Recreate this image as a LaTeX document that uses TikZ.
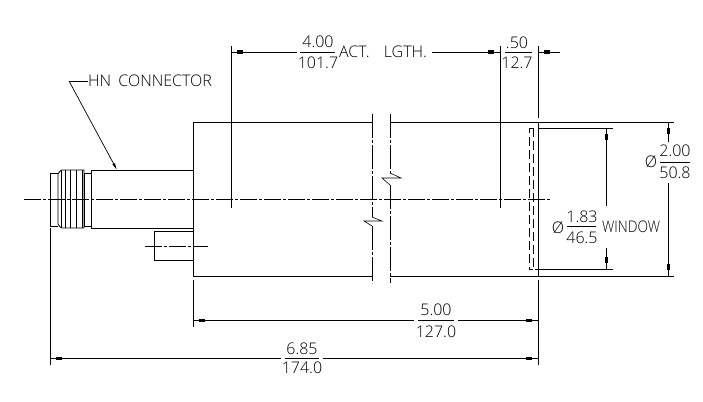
\documentclass[tikz,border=0pt]{standalone}
\usepackage{fontspec}
\setmainfont{Open Sans Light}
\usetikzlibrary{arrows.meta}
\tikzset{
	>={Rectangle[length=6pt,width=3pt]Rectangle[length=6pt,width=.7pt]},
	cadline/.style={line width=.8pt},
	centerline/.style={line width=.7pt,dash pattern=on 17pt off 2pt on 3pt off 2pt},
	breakline/.style={line width=.7pt,dash pattern=on 24pt off 2pt on 3pt off 2pt},
	hidden/.style={line width=.7pt,dash pattern=on 9pt off 4pt},
	dimtext/.style={inner sep=0pt,font=\fontsize{16}{16}\selectfont},
	fracbar/.style={line width=.7pt}
}
\begin{document}
\begin{tikzpicture}[x=1pt,y=-1pt]
	\useasboundingbox [fill=white] (0,0) rectangle (703,401);
	% body
	\node [coordinate] (TL) at (193,122) {};
	\node [coordinate] (BL) at (193,276) {};
	\node [coordinate] (TR) at (538,122) {};
	\node [coordinate] (BR) at (538,276) {};
	\node [coordinate] (BreakTopA) at (372,122) {};
	\node [coordinate] (BreakTopB) at (390,122) {};
	\node [coordinate] (BreakBotA) at (372,276) {};
	\node [coordinate] (BreakBotB) at (390,276) {};
	\node [coordinate] (OutTop) at (674,122) {};
	\node [coordinate] (OutBot) at (674,276) {};
	\draw [cadline] (TL) -- (BreakTopA);
	\draw [cadline] (BreakTopB) -- (OutTop);
	\draw [cadline] (BL) -- (BreakBotA);
	\draw [cadline] (BreakBotB) -- (OutBot);
	\draw [cadline] (TL) -- (BL);
	\draw [cadline] (TR) -- (BR);
	% break lines
	\draw [breakline] (372,114) -- (372,217);
	\draw [line width=.6pt] (372,217) -- (382,221) -- (364,221) -- (372,226);
	\draw [breakline] (372,226) -- (372,283);
	\draw [breakline] (390,114) -- (390,173);
	\draw [line width=.6pt] (390,173) -- (401,178) -- (382,178) -- (390,185);
	\draw [breakline] (390,185) -- (390,283);
	% connector
	\draw [cadline] (193,170) -- (91,170) -- (91,228) -- (193,228);
	\draw [cadline] (91,173) -- (84,173) -- (84,226) -- (91,226);
	\draw [cadline] (84,170) -- (62,170) to [out=180,in=45] (58,174) -- (58,224) to [out=315,in=180] (62,228) -- (84,228) -- cycle;
	\draw [cadline] (58,173) -- (50,173) -- (50,226) -- (58,226);
	\foreach \knurlx in {61,65,70,76,82}
		\draw [line width=.6pt] (\knurlx,170) -- (\knurlx,228);
	% side port
	\draw [cadline] (193,231) -- (154,231) -- (154,260) -- (193,260);
	\draw [centerline] (145,246) -- (208,246);
	\draw [centerline] (24,199) -- (551,199);
	% window
	\draw [hidden] (533,128) -- (529,128) -- (529,269) -- (533,269);
	\draw [hidden] (533,128) -- (533,269);
	\draw [cadline] (539,128) -- (613,128);
	\draw [cadline] (535,269) -- (613,269);
	% extension lines
	\node [coordinate] (ExtA) at (231,52) {};
	\node [coordinate] (ExtB) at (500,52) {};
	\node [coordinate] (ExtC) at (538,52) {};
	\draw [cadline] (231,46) -- (231,208);
	\draw [cadline] (500,46) -- (500,208);
	\draw [cadline] (538,46) -- (538,118);
	\draw [cadline] (538,280) -- (538,365);
	\draw [cadline] (193,280) -- (193,327);
	\draw [cadline] (50,228) -- (50,365);
	% leader
	\node [coordinate] (LeadKnee) at (69,81) {};
	\node [coordinate] (LeadTip) at (117,170) {};
	\node [dimtext,anchor=west] (HnLabel) at (88,81) {HN\hspace{3pt} CONNECTOR};
	\draw [line width=.7pt] (HnLabel.west) -- (LeadKnee);
	\draw [line width=.7pt,-{Latex[length=7pt,width=3pt]}] (LeadKnee) -- (LeadTip);
	% active length
	\node [dimtext] (ActTop) at (318,42) {4.00};
	\node [dimtext] (ActBot) at (318,63) {101.7};
	\node [dimtext,anchor=west] (ActLabel) at (339,52) {ACT.\hspace{10pt} LGTH.};
	\draw [fracbar] (300,52) -- (335,52);
	\node [coordinate] (ActGapL) at (297,52) {};
	\node [coordinate] (ActGapR) at (432,52) {};
	\draw [cadline,<-] (ExtA) -- (ActGapL);
	\draw [cadline,->] (ActGapR) -- (ExtB);
	% offset
	\node [dimtext] (OffTop) at (517,43) {.50};
	\node [dimtext] (OffBot) at (517,63) {12.7};
	\draw [fracbar] (505,52) -- (532,52);
	\node [coordinate] (OffEnd) at (560,52) {};
	\draw [cadline,<-] (ExtC) -- (OffEnd);
	% window diameter
	\node [coordinate] (WinTop) at (606,128) {};
	\node [coordinate] (WinBot) at (606,269) {};
	\node [coordinate] (WinGapT) at (606,206) {};
	\node [coordinate] (WinGapB) at (606,248) {};
	\node [dimtext] (WinPhi) at (558,228) {Ø};
	\node [dimtext] (WinNum) at (582,217) {1.83};
	\node [dimtext] (WinDen) at (582,238) {46.5};
	\node [dimtext,anchor=west] (WinLabel) at (602,227) {\scalebox{.86}[1]{WINDOW}};
	\draw [fracbar] (567,226) -- (596,226);
	\draw [cadline,<-] (WinTop) -- (WinGapT);
	\draw [cadline,->] (WinGapB) -- (WinBot);
	% outer diameter
	\node [coordinate] (DiaTop) at (668,122) {};
	\node [coordinate] (DiaBot) at (668,276) {};
	\node [coordinate] (DiaGapT) at (668,142) {};
	\node [coordinate] (DiaGapB) at (668,183) {};
	\node [dimtext] (DiaPhi) at (651,162) {Ø};
	\node [dimtext] (DiaNum) at (675,151) {2.00};
	\node [dimtext] (DiaDen) at (675,173) {50.8};
	\draw [fracbar] (660,162) -- (690,162);
	\draw [cadline,<-] (DiaTop) -- (DiaGapT);
	\draw [cadline,->] (DiaGapB) -- (DiaBot);
	% body length
	\node [coordinate] (BodyL) at (193,320) {};
	\node [coordinate] (BodyR) at (538,320) {};
	\node [coordinate] (BodyGapL) at (414,320) {};
	\node [coordinate] (BodyGapR) at (458,320) {};
	\node [dimtext] (BodyNum) at (436,310) {5.00};
	\node [dimtext] (BodyDen) at (436,332) {127.0};
	\draw [fracbar] (418,320) -- (454,320);
	\draw [cadline,<-] (BodyL) -- (BodyGapL);
	\draw [cadline,->] (BodyGapR) -- (BodyR);
	% overall length
	\node [coordinate] (AllL) at (50,358) {};
	\node [coordinate] (AllR) at (538,358) {};
	\node [coordinate] (AllGapL) at (281,358) {};
	\node [coordinate] (AllGapR) at (323,358) {};
	\node [dimtext] (AllNum) at (302,349) {6.85};
	\node [dimtext] (AllDen) at (302,368) {174.0};
	\draw [fracbar] (285,358) -- (319,358);
	\draw [cadline,<-] (AllL) -- (AllGapL);
	\draw [cadline,->] (AllGapR) -- (AllR);
\end{tikzpicture}
\end{document}
